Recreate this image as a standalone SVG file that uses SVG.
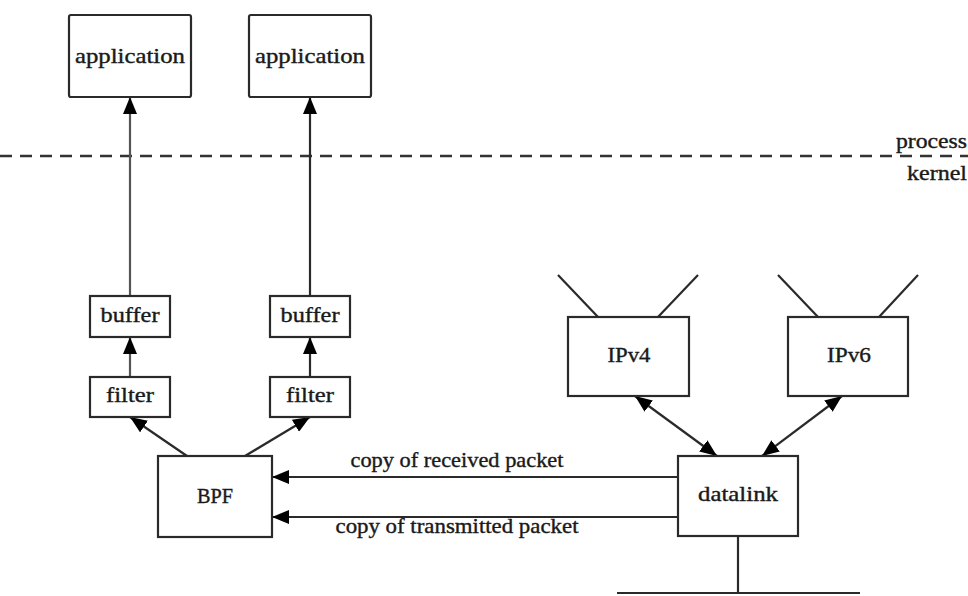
<svg xmlns="http://www.w3.org/2000/svg" width="968" height="596" viewBox="0 0 968 596">
<style>
.box{fill:#fff;stroke:#2a2a2a;stroke-width:2.2}
.t{font-family:"Liberation Serif","DejaVu Serif",serif;font-size:22px;fill:#1a1a1a;stroke:#1a1a1a;stroke-width:0.4;text-anchor:middle}
.tr{font-family:"Liberation Serif","DejaVu Serif",serif;font-size:22px;fill:#1a1a1a;stroke:#1a1a1a;stroke-width:0.4;text-anchor:end}
.ln{stroke:#2a2a2a;stroke-width:2.2;fill:none}
.gl{stroke:#555;stroke-width:2.2;fill:none}
</style>
<defs>
<marker id="ah" viewBox="0 0 17 14" markerWidth="17" markerHeight="14" refX="17" refY="7" orient="auto-start-reverse" markerUnits="userSpaceOnUse">
<path d="M0,0 L17,7 L0,14 z" fill="#000"/>
</marker>
</defs>
<rect width="968" height="596" fill="#fff"/>
<g id="boundary">
<line x1="0" y1="156" x2="968" y2="156" stroke="#333" stroke-width="2.5" stroke-dasharray="12 8"/>
<text class="tr" x="967" y="148" textLength="71" lengthAdjust="spacingAndGlyphs">process</text>
<text class="tr" x="967" y="180" textLength="60" lengthAdjust="spacingAndGlyphs">kernel</text>
</g>
<g id="connectors">
<line class="gl" x1="130" y1="296" x2="130" y2="97" marker-end="url(#ah)"/>
<line class="ln" x1="310" y1="296" x2="310" y2="97" marker-end="url(#ah)"/>
<line class="gl" x1="130" y1="377" x2="130" y2="337" marker-end="url(#ah)"/>
<line class="ln" x1="310" y1="377" x2="310" y2="337" marker-end="url(#ah)"/>
<line class="ln" x1="187" y1="456" x2="130" y2="417" marker-end="url(#ah)"/>
<line class="ln" x1="245" y1="456" x2="310" y2="417" marker-end="url(#ah)"/>
<line class="ln" x1="678" y1="477" x2="272" y2="477" marker-end="url(#ah)"/>
<line class="ln" x1="678" y1="517" x2="272" y2="517" marker-end="url(#ah)"/>
<line class="ln" x1="635" y1="396" x2="717" y2="456" marker-start="url(#ah)" marker-end="url(#ah)"/>
<line class="ln" x1="842" y1="396" x2="762" y2="456" marker-start="url(#ah)" marker-end="url(#ah)"/>
<line class="ln" x1="598" y1="317" x2="558" y2="275"/>
<line class="ln" x1="658" y1="317" x2="698" y2="275"/>
<line class="ln" x1="818" y1="317" x2="778" y2="275"/>
<line class="ln" x1="879" y1="317" x2="918" y2="275"/>
<line class="ln" x1="738" y1="536" x2="738" y2="593"/>
<line class="ln" x1="617" y1="593" x2="860" y2="593" stroke-width="3"/>
<text class="t" x="457" y="467" textLength="213" lengthAdjust="spacingAndGlyphs">copy of received packet</text>
<text class="t" x="457" y="533" textLength="243" lengthAdjust="spacingAndGlyphs">copy of transmitted packet</text>
</g>
<g id="app1"><rect class="box" x="69" y="15" width="122" height="82" rx="2"/><text class="t" x="130" y="63" textLength="110" lengthAdjust="spacingAndGlyphs">application</text></g>
<g id="app2"><rect class="box" x="249" y="15" width="122" height="82" rx="2"/><text class="t" x="310" y="63" textLength="110" lengthAdjust="spacingAndGlyphs">application</text></g>
<g id="buffer1"><rect class="box" x="90" y="296" width="80" height="41"/><text class="t" x="130" y="322" textLength="59" lengthAdjust="spacingAndGlyphs">buffer</text></g>
<g id="buffer2"><rect class="box" x="270" y="296" width="80" height="41"/><text class="t" x="310" y="322" textLength="59" lengthAdjust="spacingAndGlyphs">buffer</text></g>
<g id="filter1"><rect class="box" x="90" y="377" width="80" height="40"/><text class="t" x="130" y="402" textLength="48" lengthAdjust="spacingAndGlyphs">filter</text></g>
<g id="filter2"><rect class="box" x="270" y="377" width="80" height="40"/><text class="t" x="310" y="402" textLength="48" lengthAdjust="spacingAndGlyphs">filter</text></g>
<g id="bpf"><rect class="box" x="158" y="456" width="114" height="81"/><text class="t" x="215" y="503" textLength="36" lengthAdjust="spacingAndGlyphs">BPF</text></g>
<g id="ipv4"><rect class="box" x="568" y="317" width="121" height="79"/><text class="t" x="629" y="362" textLength="43" lengthAdjust="spacingAndGlyphs">IPv4</text></g>
<g id="ipv6"><rect class="box" x="788" y="317" width="120" height="79"/><text class="t" x="849" y="362" textLength="44" lengthAdjust="spacingAndGlyphs">IPv6</text></g>
<g id="datalink"><rect class="box" x="678" y="456" width="120" height="80"/><text class="t" x="738" y="501" textLength="80" lengthAdjust="spacingAndGlyphs">datalink</text></g>
</svg>
